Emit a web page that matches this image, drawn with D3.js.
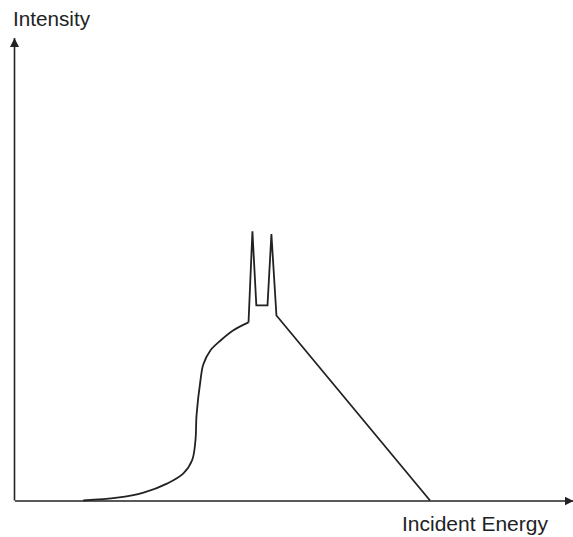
<!DOCTYPE html>
<html>
<head>
<meta charset="utf-8">
<script src="https://cdn.jsdelivr.net/npm/d3@7/dist/d3.min.js"></script>
<style>
  html, body { margin: 0; padding: 0; background: #fff; }
  svg { display: block; }
  text { font-family: "Liberation Sans", Arial, sans-serif; fill: #222; }
</style>
</head>
<body>
<svg id="chart" width="573" height="537"></svg>
<script>
// Smooth absorption edge (incident energy vs intensity, arbitrary units)
const edgeEnergy    = [12.3, 18.4, 23.1, 27.4, 30.2, 31.8, 32.4, 32.6, 33.3, 33.8, 35.1, 36.9, 39.2, 41.9];
const edgeIntensity = [0.0,  0.6,  1.7,  3.7,  5.8,  8.7,  13.0, 18.5, 26.0, 29.4, 32.5, 34.6, 36.8, 38.5];

// Double peak and linear fall-off
const peakEnergy    = [41.9, 42.6, 43.3, 45.3, 46.0, 46.9, 74.4];
const peakIntensity = [38.5, 58.2, 42.2, 42.2, 57.6, 40.0, 0.0];

const axisLabels = { x: "Incident Energy", y: "Intensity" };

const svg = d3.select("#chart");

const x = d3.scaleLinear().domain([0, 100]).range([14.5, 573]);
const y = d3.scaleLinear().domain([0, 100]).range([500.5, 38]);

const ink = "#222";

// arrowheads
const defs = svg.append("defs");
defs.append("marker")
  .attr("id", "arrow")
  .attr("viewBox", "0 0 10 10")
  .attr("refX", 10).attr("refY", 5)
  .attr("markerWidth", 9).attr("markerHeight", 9)
  .attr("markerUnits", "userSpaceOnUse")
  .attr("orient", "auto")
  .append("path")
  .attr("d", "M0,0 L10,5 L0,10 Z")
  .attr("fill", ink);

// axes: plain lines with arrowheads, no ticks
const xAxis = svg.append("g")
  .attr("transform", `translate(0,${y(0)})`)
  .call(d3.axisBottom(x).tickValues([]).tickSizeOuter(0));
xAxis.select(".domain")
  .attr("stroke", ink).attr("stroke-width", 1.6)
  .attr("marker-end", "url(#arrow)");

const yAxis = svg.append("g")
  .attr("transform", `translate(${x(0)},0)`)
  .call(d3.axisLeft(y).tickValues([]).tickSizeOuter(0));
yAxis.select(".domain")
  .attr("stroke", ink).attr("stroke-width", 1.6)
  .attr("d", `M0,${y(0)}V${y(100)}`)
  .attr("marker-end", "url(#arrow)");

// curve
const edge = d3.zip(edgeEnergy, edgeIntensity);
const peak = d3.zip(peakEnergy, peakIntensity);

svg.append("path")
  .datum(edge)
  .attr("fill", "none")
  .attr("stroke", ink)
  .attr("stroke-width", 1.8)
  .attr("d", d3.line().x(d => x(d[0])).y(d => y(d[1])).curve(d3.curveCatmullRom.alpha(0.5)));

svg.append("path")
  .datum(peak)
  .attr("fill", "none")
  .attr("stroke", ink)
  .attr("stroke-width", 1.8)
  .attr("stroke-linejoin", "miter")
  .attr("d", d3.line().x(d => x(d[0])).y(d => y(d[1])));

// axis titles
svg.append("text")
  .attr("x", 13).attr("y", 26)
  .attr("font-size", 20.7)
  .text(axisLabels.y);

svg.append("text")
  .attr("x", 402).attr("y", 531)
  .attr("font-size", 21)
  .text(axisLabels.x);
</script>
</body>
</html>
